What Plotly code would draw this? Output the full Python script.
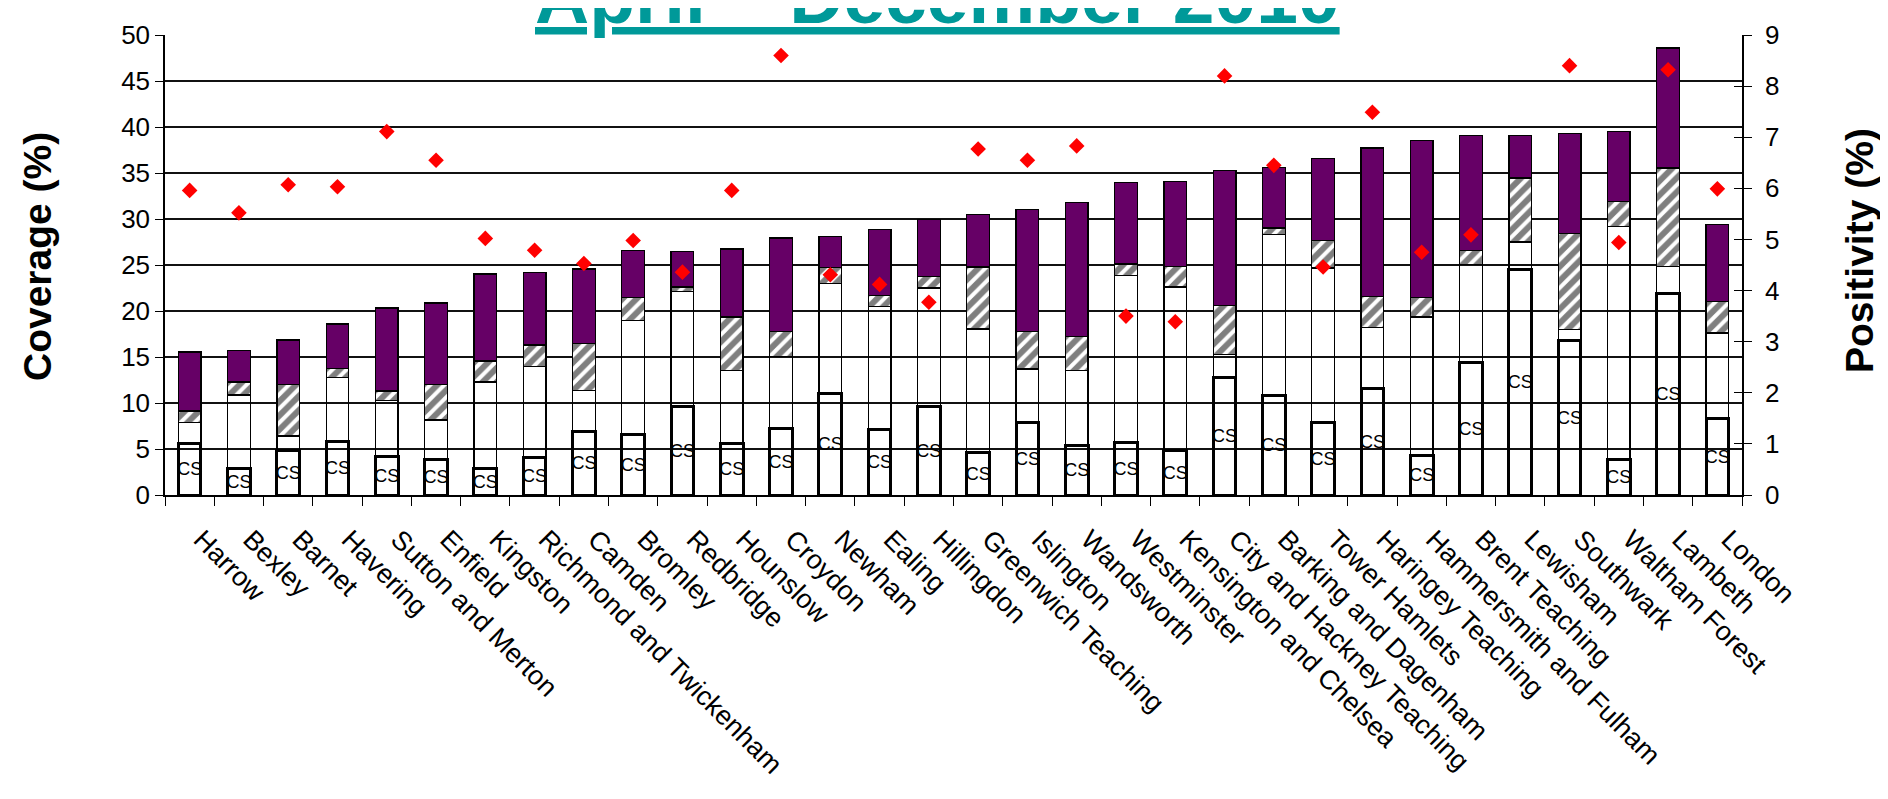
import plotly.graph_objects as go

categories = ["Harrow", "Bexley", "Barnet", "Havering", "Sutton and Merton", "Enfield",
              "Kingston", "Richmond and Twickenham", "Camden", "Bromley", "Redbridge",
              "Hounslow", "Croydon", "Newham", "Ealing", "Hillingdon", "Greenwich Teaching",
              "Islington", "Wandsworth", "Westminster", "Kensington and Chelsea",
              "City and Hackney Teaching", "Barking and Dagenham", "Tower Hamlets",
              "Haringey Teaching", "Hammersmith and Fulham", "Brent Teaching", "Lewisham",
              "Southwark", "Waltham Forest", "Lambeth", "London"]

# stacked coverage segments (%)
cs_segment = [5.57, 2.89, 4.88, 5.79, 4.23, 3.87, 2.89, 4.12, 6.95, 6.58, 9.62,
              5.60, 7.20, 11.03, 7.12, 9.59, 4.67, 7.92, 5.39, 5.75, 4.88,
              12.74, 10.81, 7.92, 11.62, 4.30, 14.44, 24.50, 16.79, 3.87, 21.86, 8.28]
white_segment = [2.28, 7.97, 1.52, 7.01, 6.04, 4.27, 9.38, 9.88, 4.41, 12.42, 12.53,
                 7.93, 7.89, 11.97, 13.40, 12.91, 13.39, 5.79, 8.18, 18.09, 17.74,
                 2.53, 17.49, 16.76, 6.62, 15.06, 10.60, 3.00, 1.19, 25.33, 3.00, 9.34]
hatched_segment = [1.27, 1.41, 5.60, 0.95, 1.02, 3.86, 2.28, 2.29, 5.07, 2.50, 0.47,
                   5.83, 2.71, 1.75, 1.15, 1.28, 6.73, 4.09, 3.69, 1.27, 2.24,
                   5.32, 0.72, 3.01, 3.32, 2.14, 1.52, 6.95, 10.42, 2.72, 10.68, 3.44]
purple_segment = [6.44, 3.43, 4.86, 4.85, 9.05, 8.88, 9.48, 7.92, 8.14, 5.06, 3.87,
                  7.38, 10.14, 3.33, 7.17, 6.15, 5.68, 13.20, 14.51, 8.83, 9.23,
                  14.65, 6.59, 8.86, 16.15, 17.00, 12.53, 4.64, 10.86, 7.56, 13.04, 8.32]

# positivity (%) on the right axis
positivity = [5.96, 5.52, 6.07, 6.03, 7.11, 6.55, 5.02, 4.79, 4.53, 4.98, 4.36,
              5.96, 8.60, 4.31, 4.12, 3.77, 6.77, 6.55, 6.83, 3.50, 3.39,
              8.20, 6.45, 4.46, 7.49, 4.75, 5.09, None, 8.40, 4.94, 8.32, 5.99]

cs_labels = ["CS"] * len(categories)

left_ticks = [0, 5, 10, 15, 20, 25, 30, 35, 40, 45, 50]
right_ticks = [0, 1, 2, 3, 4, 5, 6, 7, 8, 9]

FONT = "Liberation Sans, Arial, sans-serif"
CLEAR = "rgba(0,0,0,0)"

fig = go.Figure()
fig.add_trace(go.Bar(
    x=categories, y=cs_segment, text=cs_labels, textposition="inside",
    insidetextanchor="middle", textangle=0, constraintext="none",
    textfont=dict(family=FONT, size=18, color="black"),
    marker=dict(color=CLEAR, line=dict(color="black", width=3)),
    hoverinfo="skip"))
fig.add_trace(go.Bar(
    x=categories, y=white_segment,
    marker=dict(color=CLEAR, line=dict(color="black", width=1.3)),
    hoverinfo="skip"))
fig.add_trace(go.Bar(
    x=categories, y=hatched_segment,
    marker=dict(color="white", line=dict(color="black", width=1.3),
                pattern=dict(shape="/", fgcolor="black", bgcolor="white",
                             size=10, solidity=0.6)),
    hoverinfo="skip"))
fig.add_trace(go.Bar(
    x=categories, y=purple_segment,
    marker=dict(color="#660066", line=dict(color="black", width=1.3)),
    hoverinfo="skip"))
fig.add_trace(go.Scatter(
    x=categories, y=positivity, mode="markers", yaxis="y2",
    marker=dict(symbol="diamond", size=12, color="#FF0000", line=dict(width=0))))
fig.add_trace(go.Scatter(x=[], y=[], yaxis="y3", hoverinfo="skip"))

fig.update_layout(
    width=1888, height=799, autosize=False,
    margin=dict(l=157, r=154, t=27, b=312, pad=0),
    paper_bgcolor="white", plot_bgcolor="white",
    barmode="stack", bargap=0.54, showlegend=False,
    font=dict(family=FONT, color="black"),
    xaxis=dict(type="category", range=[-0.5, len(categories) - 0.5],
               showline=True, linecolor="black", linewidth=1.5,
               ticks="outside", tickson="boundaries", ticklen=9, tickcolor="black",
               tickwidth=1.2, tickangle=45, tickfont=dict(family=FONT, size=27),
               ticklabelstandoff=16, ticklabelshift=12,
               showgrid=False, automargin=False),
    yaxis=dict(range=[0, 50], tickvals=left_ticks, showgrid=True, gridcolor="#111111",
               gridwidth=1.6, showline=True, linecolor="black", linewidth=1.5,
               ticks="outside", ticklen=8, tickcolor="black", tickwidth=1.2,
               tickfont=dict(family=FONT, size=26), zeroline=False, automargin=False),
    yaxis2=dict(range=[0, 9], tickvals=right_ticks, overlaying="y", side="right",
                anchor="x", showgrid=False, showline=True, linecolor="black",
                linewidth=1.5, ticks="outside", ticklen=8, tickcolor="black",
                tickwidth=1.2, tickfont=dict(family=FONT, size=26), zeroline=False,
                ticklabelstandoff=8, automargin=False),
    yaxis3=dict(range=[0, 9], tickvals=right_ticks, overlaying="y", side="right",
                anchor="x", showgrid=False, showline=False, ticks="inside", ticklen=8,
                tickcolor="black", tickwidth=1.2, showticklabels=False,
                zeroline=False, automargin=False),
    annotations=[
        dict(text="<b>April – December 2010</b>", xref="paper", yref="paper",
             x=(929 - 157) / 1577, y=0.987, xanchor="center", yanchor="bottom",
             showarrow=False,
             font=dict(family=FONT, size=75, color="#009999", lineposition="under")),
        dict(text="<b>Coverage (%)</b>", xref="paper", yref="paper",
             x=(29 - 157) / 1577, y=(487 - 249) / 460, xanchor="center",
             yanchor="middle", textangle=-90, showarrow=False,
             font=dict(family=FONT, size=39, color="black")),
        dict(text="<b>Positivity (%)</b>", xref="paper", yref="paper",
             x=(1852 - 157) / 1577, y=(487 - 243) / 460, xanchor="center",
             yanchor="middle", textangle=-90, showarrow=False,
             font=dict(family=FONT, size=39, color="black")),
    ],
)

fig.write_html("out.html")
